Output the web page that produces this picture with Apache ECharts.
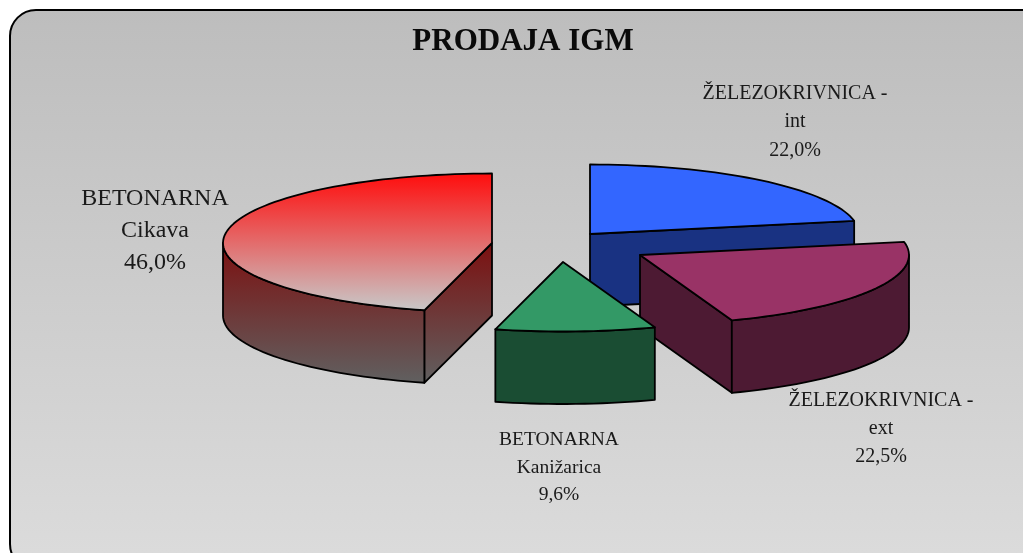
<!DOCTYPE html>
<html><head><meta charset="utf-8">
<style>html,body{margin:0;padding:0;background:#fff}#c{width:1023px;height:553px}</style>
<script src="https://cdn.jsdelivr.net/npm/echarts@6/dist/echarts.min.js"></script>
</head><body><div id="c"></div>
<script>
// Data
var chartTitle = 'PRODAJA IGM';
var categories = ['ŽELEZOKRIVNICA - int', 'ŽELEZOKRIVNICA - ext', 'BETONARNA Kanižarica', 'BETONARNA Cikava'];
var labelLines = [['ŽELEZOKRIVNICA -', 'int'], ['ŽELEZOKRIVNICA -', 'ext'], ['BETONARNA', 'Kanižarica'], ['BETONARNA', 'Cikava']];
var values = [22.0, 22.5, 9.6, 46.0];
var percentText = ['22,0%', '22,5%', '9,6%', '46,0%'];

// Layout and style
var CX = 557, CY = 246, RX = 269, RY = 69.5, DEPTH = 72.5;
var explode = [[33, -12], [83, 9], [6, 16], [-65, -3]];
var labelPos = [
  {x: 795, y: 93.5, lh: 28.5, size: 20},
  {x: 881, y: 401, lh: 28, size: 20},
  {x: 559, y: 440, lh: 27.5, size: 19.5},
  {x: 155, y: 199, lh: 32, size: 24}
];
function grad(c1, c2) {
  return new echarts.graphic.LinearGradient(0, 0, 0, 1, [{offset: 0, color: c1}, {offset: 1, color: c2}]);
}
function globalGrad(y1, y2, c1, c2) {
  return {type: 'linear', x: 0, y: y1, x2: 0, y2: y2, global: true,
    colorStops: [{offset: 0, color: c1}, {offset: 1, color: c2}]};
}
var fills = [
  {top: '#3366ff', side: '#193282'},
  {top: '#993366', side: '#4d1a33'},
  {top: '#339966', side: '#1a4d33'},
  {gradient: true}
];
var drawOrder = [0, 3, 1, 2];
var total = values.reduce(function (a, b) { return a + b; }, 0);
var starts = []; (function () { var s = 0; values.forEach(function (v) { starts.push(s); s += v / total * 360; }); })();

function pt(ax, ay, deg, dz) {
  var r = deg * Math.PI / 180;
  return [ax + RX * Math.sin(r), ay - RY * Math.cos(r) + (dz || 0)];
}
function arc(ax, ay, a0, a1, dz) {
  var out = [], n = Math.max(2, Math.ceil((a1 - a0) / 2));
  for (var i = 0; i <= n; i++) out.push(pt(ax, ay, a0 + (a1 - a0) * i / n, dz));
  return out;
}
var line = {stroke: '#000', lineWidth: 1.8, lineJoin: 'round'};
function poly(points, fill) {
  return {type: 'polygon', shape: {points: points}, style: Object.assign({fill: fill}, line)};
}
function renderSlice(params, api) {
  var i = drawOrder[params.dataIndex];
  var a0 = starts[i], a1 = a0 + values[i] / total * 360;
  var ax = CX + explode[i][0], ay = CY + explode[i][1];
  var f = fills[i], topFill = f.top, sideFill = f.side;
  if (f.gradient) {
    topFill = globalGrad(ay - RY, pt(ax, ay, a0)[1], '#ff0d0d', '#c8c8c8');
    sideFill = globalGrad(ay, ay + RY * 0.97 + DEPTH, '#7c1010', '#606060');
  }
  var kids = [];
  [a0, a1].forEach(function (a) {
    var e = pt(ax, ay, a);
    if (Math.abs(Math.sin(a * Math.PI / 180)) < 1e-6) return;
    var faceFront = (a === a1 && a < 180) || (a === a0 && a > 180);
    if (!faceFront) return;
    kids.push(poly([[ax, ay], e, [e[0], e[1] + DEPTH], [ax, ay + DEPTH]], sideFill));
  });
  var w0 = Math.max(a0, 90), w1 = Math.min(a1, 270);
  if (w1 - w0 > 12) {
    var upper = arc(ax, ay, w0, w1, 0), lower = arc(ax, ay, w0, w1, DEPTH).reverse();
    kids.push(poly(upper.concat(lower), sideFill));
  }
  kids.push(poly([[ax, ay]].concat(arc(ax, ay, a0, a1, 0)), topFill));
  return {type: 'group', children: kids};
}
function renderLabels(params, api) {
  var i = params.dataIndex, p = labelPos[i], kids = [];
  labelLines[i].concat([percentText[i]]).forEach(function (t, k) {
    kids.push({type: 'text', style: {text: t, x: p.x, y: p.y + k * p.lh, textAlign: 'center', textVerticalAlign: 'middle',
      font: p.size + 'px "Liberation Serif"', fill: '#1a1a1a'}});
  });
  return {type: 'group', children: kids};
}
var chart = echarts.init(document.getElementById('c'), null, {renderer: 'canvas'});
chart.setOption({
  animation: false,
  backgroundColor: '#fff',
  graphic: [
    {type: 'rect', z: -1, shape: {x: 10, y: 10, width: 1040, height: 560, r: 26},
      style: {fill: grad('#bdbdbd', '#dcdcdc'), stroke: '#000', lineWidth: 2}},
    {type: 'text', z: 10, style: {text: chartTitle, x: 523, y: 41.5, textAlign: 'center', textVerticalAlign: 'middle',
      font: 'bold 31px "Liberation Serif"', fill: '#0a0a0a'}}
  ],
  series: [
    {type: 'custom', coordinateSystem: 'none', silent: true, data: drawOrder.map(function (i) { return {name: categories[i], value: values[i]}; }), renderItem: renderSlice},
    {type: 'custom', coordinateSystem: 'none', silent: true, z: 5, data: categories.map(function (c, i) { return {name: c, value: values[i]}; }), renderItem: renderLabels}
  ]
});
</script></body></html>
